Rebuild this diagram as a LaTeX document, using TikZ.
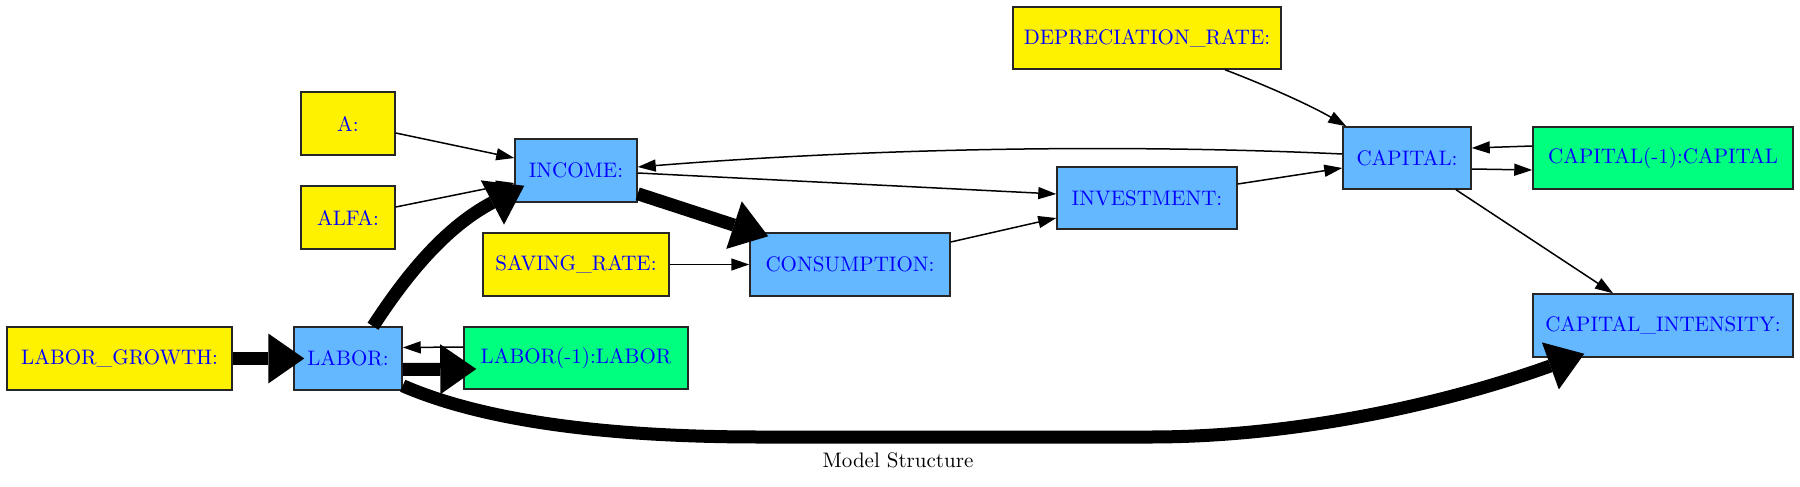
\documentclass[tikz,border=0pt]{standalone}
\usetikzlibrary{arrows.meta,calc}
\definecolor{sblue}{HTML}{63B8FF}
\definecolor{sgreen}{HTML}{00FF7F}
\definecolor{tblue}{HTML}{0000FF}
\begin{document}
\begin{tikzpicture}[x=0.5pt,y=-0.5pt,
  every node/.style={font=\fontsize{10.5}{12}\selectfont},
  box/.style={draw=black!85, line width=0.75pt, inner sep=0pt, text=tblue, rectangle},
  sz/.style 2 args={minimum width=#1pt, minimum height=#2pt},
  yel/.style={box, fill=yellow},
  blu/.style={box, fill=sblue},
  grn/.style={box, fill=sgreen},
  thn/.style={line width=0.75pt, -{Triangle[length=9pt,width=6pt]}},
  thk/.style={line width=6.5pt, -{Triangle[length=18pt,width=25pt,line width=0pt]}}]
\useasboundingbox (0,0) rectangle (1800,487);
% nodes
\node[yel, sz={134}{31}] (dep) at (1147,38) {DEPRECIATION\_RATE:};
\node[yel, sz={47}{31.5}] (a) at (348,123.5) {A:};
\node[yel, sz={47}{31.5}] (alfa) at (348,217.5) {ALFA:};
\node[yel, sz={112.5}{31.5}] (lg) at (119.5,358.5) {LABOR\_GROWTH:};
\node[blu, sz={54}{31.5}] (labor) at (348,358.5) {LABOR:};
\node[grn, sz={112}{31}] (laborl) at (576,358) {LABOR(-1):LABOR};
\node[blu, sz={61}{31.5}] (income) at (576,170.5) {INCOME:};
\node[yel, sz={93}{31.5}] (saving) at (576,264.5) {SAVING\_RATE:};
\node[blu, sz={100}{31.5}] (cons) at (850,264.5) {CONSUMPTION:};
\node[blu, sz={90}{31}] (invest) at (1147,198) {INVESTMENT:};
\node[blu, sz={64}{31}] (capital) at (1407,158) {CAPITAL:};
\node[grn, sz={130}{31}] (capl) at (1663,158) {CAPITAL(-1):CAPITAL};
\node[blu, sz={130}{31.5}] (capint) at (1663,325.5) {CAPITAL\_INTENSITY:};
\node (title) at (898,460) {Model Structure};
% thick edges
\draw[thk] (lg.east) -- ($(labor.west)+(11,0)$);
\draw[thk] ($(labor.north)+(25,0)$) .. controls (400,285) and (440,230) .. ($(income.south west)+(10,-17)$);
\draw[thk] ($(labor.east)+(0,11)$) -- ($(laborl.west)+(13,11)$);
\draw[thk] ($(labor.south east)+(0,-5)$) .. controls (470,415) and (580,437) .. (760,437) -- (1150,437) .. controls (1300,437) and (1450,402) .. ($(capint.south west)+(52,-4)$);
\draw[thk] ($(income.south east)+(0,-9)$) -- ($(cons.north west)+(19,4)$);
% thin edges
\draw[thn] ($(laborl.west)+(0,-11)$) -- ($(labor.east)+(0,-11)$);
\draw[thn] ($(a.east)+(0,9.5)$) -- ($(income.west)+(0,-12.5)$);
\draw[thn] ($(alfa.east)+(0,-10.5)$) -- ($(income.west)+(0,12.5)$);
\draw[thn] ($(income.east)+(0,2.5)$) -- ($(invest.west)+(0,-4)$);
\draw[thn] ($(capital.west)+(0,-4)$) .. controls (1150,145) and (900,146) .. ($(income.east)+(0,-3.5)$);
\draw[thn] (saving.east) -- (cons.west);
\draw[thn] ($(cons.east)+(0,-22.5)$) -- ($(invest.west)+(0,20)$);
\draw[thn] ($(invest.east)+(0,-14)$) -- ($(capital.west)+(0,10)$);
\draw[thn] ($(dep.south)+(78,0)$) .. controls (1265,85) and (1310,105) .. ($(capital.north west)+(4,0)$);
\draw[thn] ($(capital.east)+(0,11)$) -- ($(capl.west)+(0,12)$);
\draw[thn] ($(capl.west)+(0,-12)$) -- ($(capital.east)+(0,-10)$);
\draw[thn] ($(capital.south)+(49,0)$) -- ($(capint.north)+(-50,0)$);
\end{tikzpicture}
\end{document}
